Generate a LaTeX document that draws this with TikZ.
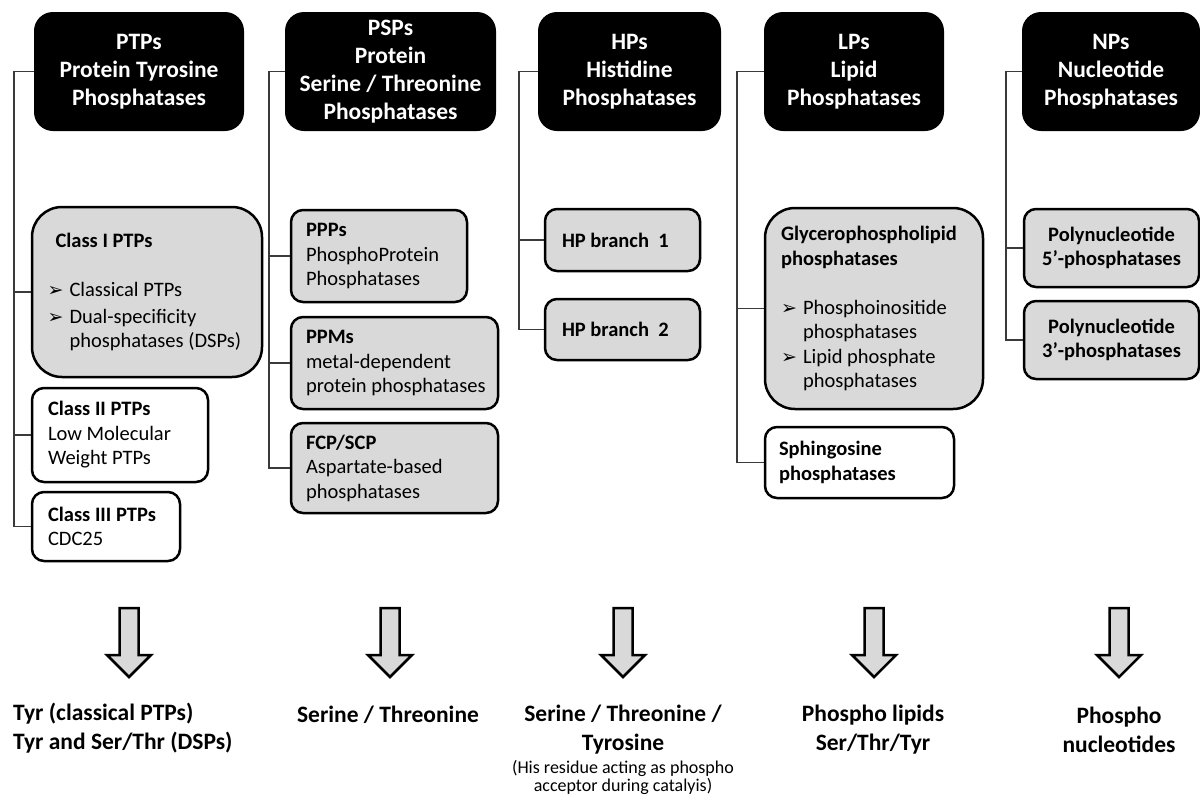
\documentclass[tikz,border=0pt]{standalone}
\usepackage{fontspec}
\setmainfont{Carlito}
\newfontfamily\dejavu{DejaVu Sans}
\definecolor{boxgray}{HTML}{D9D9D9}
\definecolor{linegray}{HTML}{3A3A3A}
\newcommand{\headfont}{\fontsize{23.5}{28}\selectfont\bfseries}
\newcommand{\bodyfont}{\fontsize{20.5}{24.5}\selectfont}
\newcommand{\labfont}{\fontsize{23.5}{29}\selectfont\bfseries}
\newcommand{\notefont}{\fontsize{18}{18.5}\selectfont}
\newcommand{\bl}{\makebox[22pt][l]{\dejavu\fontsize{19}{19}\selectfont ➢}}
\newcommand{\ind}{\hspace*{22pt}}
\tikzset{
  head/.style={draw=black, fill=black, line width=2pt, rounded corners=18pt, text=white, font=\headfont, align=center, inner sep=0pt},
  grayb/.style={draw=black, fill=boxgray, line width=2.5pt, rounded corners=12pt, font=\bodyfont, align=flush left, inner xsep=16pt, inner ysep=0pt},
  whiteb/.style={grayb, fill=white},
  conn/.style={draw=linegray, line width=1.5pt},
  lab/.style={font=\labfont, align=center, inner sep=0pt},
  note/.style={font=\notefont, align=center, inner sep=0pt},
  downarrow/.pic={\path[draw=black, fill=boxgray, line width=2.5pt, line join=miter]
     (-9.5,608) -- (9.5,608) -- (9.5,655) -- (22,655) -- (0,677) -- (-22,655) -- (-9.5,655) -- cycle;}
}
\begin{document}
\begin{tikzpicture}[x=1pt,y=-1pt]
\useasboundingbox (0,0) rectangle (1200,796);
% headers
\node[head, minimum width=208pt, minimum height=117pt] (ptps) at (139,71.5) {PTPs\\Protein Tyrosine\\Phosphatases};
\node[head, minimum width=209pt, minimum height=117pt] (psps) at (390.5,71.5) {PSPs\\Protein\\Serine / Threonine\\Phosphatases};
\node[head, minimum width=181pt, minimum height=117pt] (hps) at (629.5,71.5) {HPs\\Histidine\\Phosphatases};
\node[head, minimum width=178pt, minimum height=117pt] (lps) at (854,71.5) {LPs\\Lipid\\Phosphatases};
\node[head, minimum width=176pt, minimum height=117pt] (nps) at (1111,71.5) {NPs\\Nucleotide\\Phosphatases};
% PTPs
\node[grayb, rounded corners=30pt, minimum width=230pt, minimum height=170pt, text width=199pt, inner xsep=15.5pt] (c1) at (147,292)
  {\hspace*{8pt}\textbf{Class I PTPs}\\[24.5pt]\bl Classical PTPs\\[2.5pt]\bl Dual-specificity\\\ind phosphatases (DSPs)};
\node[whiteb, minimum width=176pt, minimum height=94pt, text width=144pt] (c2) at (120,435)
  {\textbf{Class II PTPs}\\Low Molecular\\Weight PTPs};
\node[whiteb, minimum width=148pt, minimum height=69pt, text width=116pt] (c3) at (106,526.5)
  {\textbf{Class III PTPs}\\CDC25};
% PSPs
\node[grayb, minimum width=176pt, minimum height=92pt, text width=146pt, inner xsep=15pt] (ppp) at (379,256)
  {\textbf{PPPs}\\PhosphoProtein\\Phosphatases};
\node[grayb, minimum width=207pt, minimum height=92pt, text width=177pt, inner xsep=15pt] (ppm) at (394.5,363)
  {\textbf{PPMs}\\metal-dependent\\\mbox{protein phosphatases}};
\node[grayb, minimum width=207pt, minimum height=90pt, text width=177pt, inner xsep=15pt] (fcp) at (394.5,468)
  {\textbf{FCP/SCP}\\Aspartate-based\\phosphatases};
% HPs
\node[grayb, minimum width=155pt, minimum height=62pt, text width=121pt, inner xsep=17pt] (hp1) at (622.5,240) {\textbf{HP branch\hspace{0.45em}1}};
\node[grayb, minimum width=155pt, minimum height=61pt, text width=121pt, inner xsep=17pt] (hp2) at (622.5,329.5) {\textbf{HP branch\hspace{0.45em}2}};
% LPs
\node[grayb, rounded corners=30pt, minimum width=218pt, minimum height=201pt, text width=186pt] (gly) at (874,308.5)
  {\textbf{Glycerophospholipid}\\\textbf{phosphatases}\\[24.5pt]\bl Phosphoinositide\\\ind phosphatases\\\bl Lipid phosphate\\\ind phosphatases};
\node[whiteb, minimum width=189pt, minimum height=71pt, text width=161pt, inner xsep=14pt] (sph) at (859.5,462.5)
  {\textbf{Sphingosine}\\\textbf{phosphatases}};
% NPs
\node[grayb, align=center, minimum width=175pt, minimum height=78pt, text width=161pt, inner xsep=7pt] (pn5) at (1111.5,248)
  {\textbf{Polynucleotide}\\\textbf{5’-phosphatases}};
\node[grayb, align=center, minimum width=175pt, minimum height=78pt, text width=161pt, inner xsep=7pt] (pn3) at (1111.5,340)
  {\textbf{Polynucleotide}\\\textbf{3’-phosphatases}};
% connector spines
\coordinate (v1) at (14,0);
\coordinate (v2) at (269,0);
\coordinate (v3) at (519,0);
\coordinate (v4) at (737,0);
\coordinate (v5) at (1006,0);
\draw[conn] (ptps.west) -- (ptps.west -| v1) -- (c3.west -| v1) -- (c3.west);
\draw[conn] (c1.west -| v1) -- (c1.west);
\draw[conn] (c2.west -| v1) -- (c2.west);
\draw[conn] (psps.west) -- (psps.west -| v2) -- (fcp.west -| v2) -- (fcp.west);
\draw[conn] (ppp.west -| v2) -- (ppp.west);
\draw[conn] (ppm.west -| v2) -- (ppm.west);
\draw[conn] (hps.west) -- (hps.west -| v3) -- (hp2.west -| v3) -- (hp2.west);
\draw[conn] (hp1.west -| v3) -- (hp1.west);
\draw[conn] (lps.west) -- (lps.west -| v4) -- (sph.west -| v4) -- (sph.west);
\draw[conn] (gly.west -| v4) -- (gly.west);
\draw[conn] (nps.west) -- (nps.west -| v5) -- (pn3.west -| v5) -- (pn3.west);
\draw[conn] (pn5.west -| v5) -- (pn5.west);
% arrows
\pic (a1) at (129,0) {downarrow};
\pic (a2) at (390,0) {downarrow};
\pic (a3) at (623,0) {downarrow};
\pic (a4) at (874,0) {downarrow};
\pic (a5) at (1119,0) {downarrow};
% bottom labels
\node[lab, align=left, anchor=west] (t1) at (13,728) {Tyr (classical PTPs)\\Tyr and Ser/Thr (DSPs)};
\node[lab] (t2) at (388,715) {Serine / Threonine};
\node[lab] (t3) at (623,730) {Serine / Threonine /\\Tyrosine};
\node[note] (t3n) at (623,777.5) {(His residue acting as phospho\\acceptor during catalyis)};
\node[lab] (t4) at (873,730) {Phospho lipids\\Ser/Thr/Tyr};
\node[lab] (t5) at (1119,730) {Phospho\\nucleotides};
\end{tikzpicture}
\end{document}
